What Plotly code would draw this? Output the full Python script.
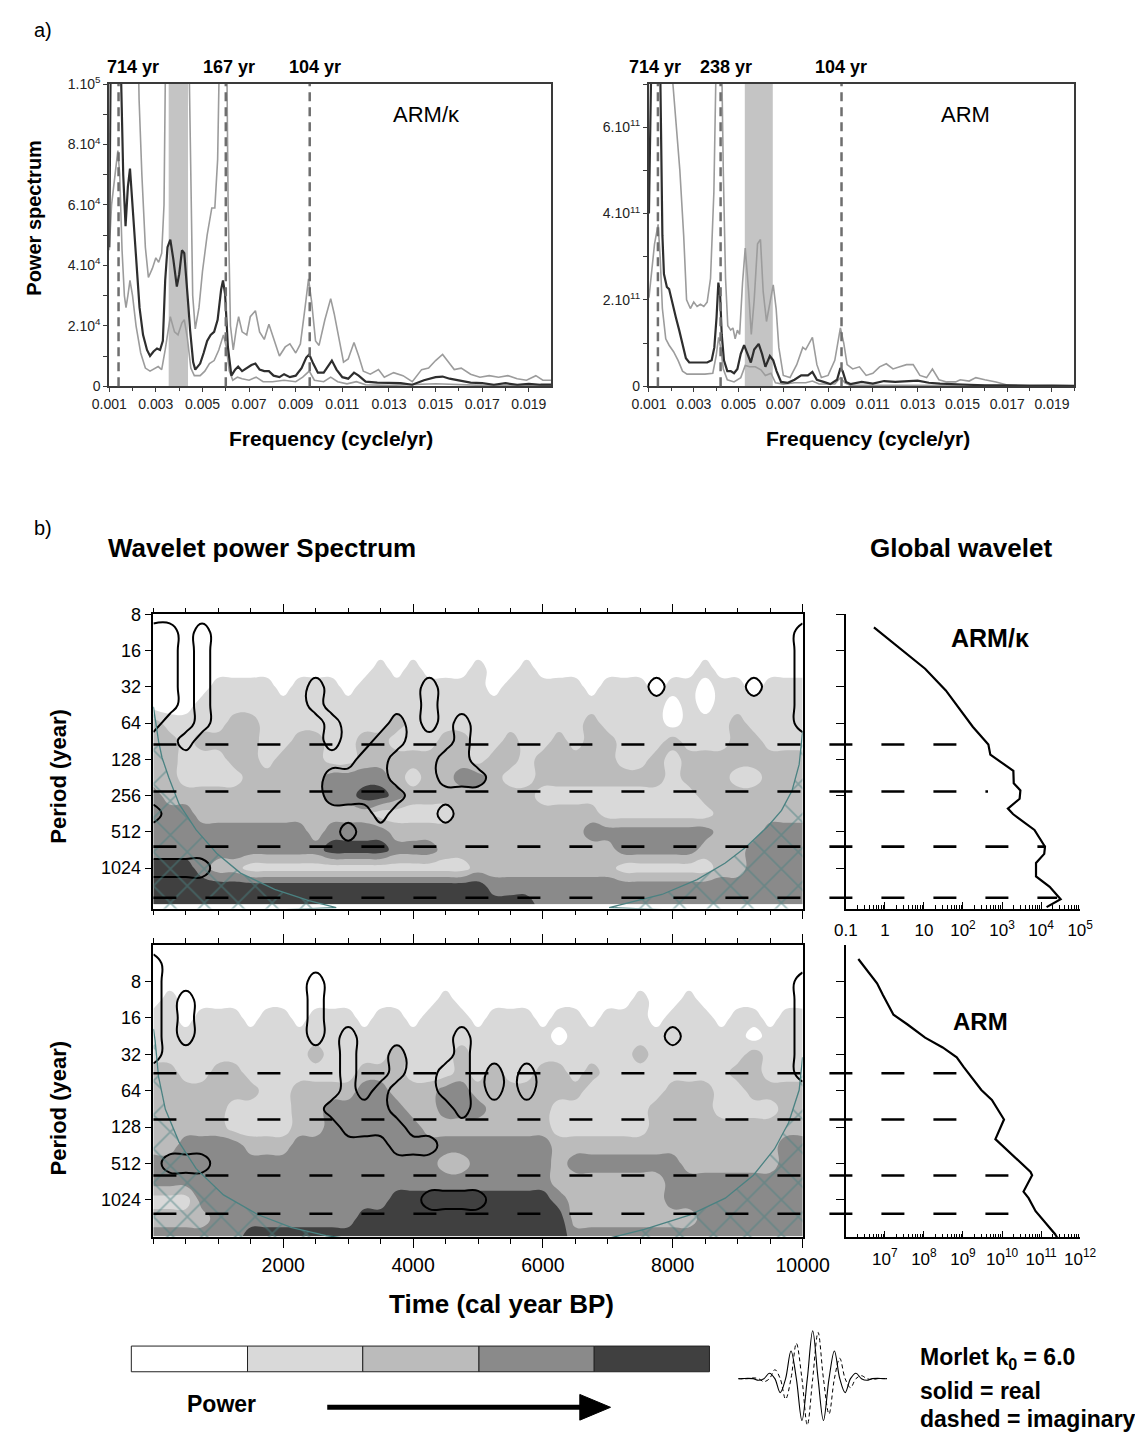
import plotly.graph_objects as go

W, H = 1135, 1439
FONT = "Liberation Sans, Arial, Helvetica, sans-serif"


def px(x):
    return x / W


def py(y):
    return 1 - y / H


# ---------------- a) power spectra (freq, power) ----------------
# ARM/kappa panel, power in units of 1e4
ARMK_SPEC = [(0.00100, 4.6), (0.00106, 10.5), (0.00120, 13.0), (0.00140, 13.0), (0.00150, 10.5), (0.00160, 7.0),
             (0.00170, 5.3), (0.00180, 6.6), (0.00189, 7.2), (0.00200, 6.0), (0.00215, 4.2), (0.00230, 2.6),
             (0.00245, 1.7), (0.00262, 1.2), (0.00275, 1.0), (0.00290, 1.15), (0.00305, 1.25), (0.00318, 1.2),
             (0.00330, 1.5), (0.00340, 3.5), (0.00350, 4.6), (0.00362, 4.85), (0.00375, 4.2), (0.00390, 3.3),
             (0.00400, 3.7), (0.00412, 4.5), (0.00422, 4.4), (0.00432, 3.5), (0.00440, 2.6), (0.00447, 1.85),
             (0.00460, 0.8), (0.00469, 0.55), (0.00490, 0.75), (0.00505, 1.1), (0.00520, 1.5), (0.00535, 1.7),
             (0.00550, 1.8), (0.00565, 2.2), (0.00580, 3.2), (0.00588, 3.5), (0.00597, 3.05), (0.00609, 1.3),
             (0.00624, 0.35), (0.00640, 0.55), (0.00653, 0.65), (0.00670, 0.5), (0.00690, 0.6), (0.00710, 0.7),
             (0.00727, 0.75), (0.00745, 0.55), (0.00765, 0.5), (0.00785, 0.5), (0.00805, 0.35), (0.00830, 0.3),
             (0.00850, 0.4), (0.00875, 0.3), (0.00900, 0.35), (0.00925, 0.6), (0.00945, 0.95), (0.00958, 1.05),
             (0.00975, 0.75), (0.00995, 0.45), (0.01020, 0.45), (0.01040, 0.7), (0.01055, 0.85), (0.01075, 0.55),
             (0.01100, 0.3), (0.01125, 0.25), (0.01150, 0.45), (0.01170, 0.35), (0.01200, 0.15), (0.01250, 0.12),
             (0.01300, 0.12), (0.01350, 0.1), (0.01400, 0.05), (0.01450, 0.2), (0.01500, 0.3), (0.01530, 0.32),
             (0.01560, 0.25), (0.01600, 0.2), (0.01650, 0.12), (0.01700, 0.1), (0.01750, 0.05), (0.01800, 0.1),
             (0.01850, 0.05), (0.01900, 0.08), (0.01950, 0.05), (0.02000, 0.05)]
ARMK_UP = [(0.00100, 13), (0.00220, 13), (0.00228, 9.5), (0.00240, 7.0), (0.00255, 4.6), (0.00268, 3.6),
           (0.00285, 3.9), (0.00300, 4.25), (0.00312, 4.1), (0.00325, 4.4), (0.00335, 6.0), (0.00343, 12),
           (0.00440, 12), (0.00447, 8.0), (0.00458, 3.0), (0.00469, 1.9), (0.00485, 2.6), (0.00500, 3.8),
           (0.00520, 5.0), (0.00540, 5.9), (0.00553, 5.9), (0.00565, 7.5), (0.00575, 12), (0.00603, 12),
           (0.00610, 6.0), (0.00620, 2.0), (0.00632, 1.2), (0.00645, 1.9), (0.00655, 2.3), (0.00670, 1.8),
           (0.00690, 1.7), (0.00705, 2.3), (0.00727, 2.5), (0.00745, 1.8), (0.00765, 1.55), (0.00785, 2.05),
           (0.00805, 1.6), (0.00830, 1.0), (0.00855, 1.3), (0.00875, 1.4), (0.00900, 1.1), (0.00920, 1.4),
           (0.00940, 2.6), (0.00955, 3.55), (0.00968, 2.8), (0.00985, 1.5), (0.01000, 1.35), (0.01025, 2.2),
           (0.01050, 2.9), (0.01065, 2.4), (0.01085, 1.6), (0.01105, 0.8), (0.01125, 0.9), (0.01150, 1.45),
           (0.01170, 1.0), (0.01190, 0.5), (0.01220, 0.4), (0.01255, 0.55), (0.01280, 0.3), (0.01320, 0.45),
           (0.01360, 0.35), (0.01400, 0.15), (0.01440, 0.55), (0.01470, 0.6), (0.01500, 0.85), (0.01530, 1.05),
           (0.01555, 0.8), (0.01580, 0.55), (0.01610, 0.6), (0.01650, 0.4), (0.01690, 0.3), (0.01730, 0.35),
           (0.01770, 0.3), (0.01810, 0.35), (0.01850, 0.25), (0.01890, 0.2), (0.01930, 0.35), (0.01960, 0.2),
           (0.02000, 0.2)]
ARMK_LO = [(0.00100, 4.5), (0.00110, 6.0), (0.00125, 7.0), (0.00137, 7.8), (0.00145, 7.0), (0.00155, 4.5),
           (0.00165, 3.0), (0.00172, 2.6), (0.00180, 3.0), (0.00189, 3.5), (0.00200, 3.0), (0.00215, 2.0),
           (0.00235, 1.1), (0.00255, 0.6), (0.00275, 0.5), (0.00295, 0.6), (0.00310, 0.65), (0.00325, 0.55),
           (0.00340, 1.2), (0.00362, 2.3), (0.00380, 1.8), (0.00395, 1.7), (0.00412, 2.1), (0.00422, 2.2),
           (0.00435, 1.6), (0.00450, 0.6), (0.00465, 0.35), (0.00490, 0.35), (0.00510, 0.5), (0.00530, 0.75),
           (0.00550, 0.85), (0.00570, 1.2), (0.00590, 1.7), (0.00602, 1.3), (0.00615, 0.5), (0.00630, 0.2),
           (0.00650, 0.3), (0.00670, 0.25), (0.00700, 0.2), (0.00730, 0.3), (0.00760, 0.15), (0.00800, 0.15),
           (0.00850, 0.2), (0.00900, 0.15), (0.00930, 0.3), (0.00958, 0.5), (0.00980, 0.2), (0.01020, 0.15),
           (0.01050, 0.3), (0.01080, 0.15), (0.01120, 0.08), (0.01160, 0.15), (0.01200, 0.05), (0.01300, 0.03),
           (0.01500, 0.08), (0.01700, 0.03), (0.02000, 0.02)]

# ARM panel, power in units of 1e11
ARM_SPEC = [(0.00100, 4.0), (0.00103, 7.5), (0.00115, 9.0), (0.00140, 9.0), (0.00150, 7.5), (0.00155, 5.5),
            (0.00160, 3.5), (0.00167, 2.6), (0.00180, 2.3), (0.00190, 2.25), (0.00205, 1.9), (0.00220, 1.6),
            (0.00235, 1.3), (0.00250, 0.95), (0.00265, 0.65), (0.00280, 0.55), (0.00300, 0.55), (0.00330, 0.55),
            (0.00360, 0.55), (0.00380, 0.6), (0.00392, 0.9), (0.00402, 1.6), (0.00410, 2.4), (0.00418, 2.1),
            (0.00425, 1.2), (0.00435, 0.6), (0.00450, 0.35), (0.00465, 0.35), (0.00480, 0.3), (0.00495, 0.4),
            (0.00510, 0.75), (0.00525, 0.95), (0.00540, 0.75), (0.00555, 0.55), (0.00570, 0.85), (0.00590, 0.98),
            (0.00605, 0.75), (0.00620, 0.45), (0.00640, 0.7), (0.00655, 0.6), (0.00670, 0.35), (0.00690, 0.1),
            (0.00720, 0.08), (0.00750, 0.15), (0.00780, 0.25), (0.00810, 0.25), (0.00830, 0.33), (0.00850, 0.15),
            (0.00880, 0.1), (0.00910, 0.05), (0.00940, 0.15), (0.00955, 0.42), (0.00965, 0.35), (0.00980, 0.1),
            (0.01000, 0.05), (0.01050, 0.1), (0.01100, 0.06), (0.01150, 0.12), (0.01200, 0.1), (0.01250, 0.12),
            (0.01300, 0.13), (0.01350, 0.08), (0.01400, 0.06), (0.01500, 0.04), (0.01600, 0.02), (0.01700, 0.02),
            (0.01800, 0.01), (0.02000, 0.01)]
ARM_UP = [(0.00100, 8.0), (0.00200, 8.0), (0.00207, 7.0), (0.00220, 6.2), (0.00238, 5.0), (0.00255, 3.5),
          (0.00268, 2.0), (0.00285, 1.8), (0.00300, 1.95), (0.00315, 1.85), (0.00330, 1.9), (0.00345, 1.85),
          (0.00360, 1.95), (0.00375, 2.5), (0.00390, 4.5), (0.00400, 7.5), (0.00425, 7.5), (0.00432, 5.0),
          (0.00442, 2.5), (0.00452, 1.4), (0.00465, 1.3), (0.00475, 1.35), (0.00485, 1.1), (0.00495, 1.3),
          (0.00505, 1.2), (0.00518, 2.4), (0.00530, 3.2), (0.00545, 2.2), (0.00557, 1.2), (0.00570, 2.0),
          (0.00585, 3.3), (0.00598, 3.4), (0.00610, 2.2), (0.00625, 1.5), (0.00640, 1.9), (0.00655, 2.35),
          (0.00668, 1.8), (0.00680, 0.9), (0.00700, 0.25), (0.00730, 0.2), (0.00760, 0.5), (0.00787, 0.9),
          (0.00800, 0.85), (0.00830, 1.13), (0.00850, 0.5), (0.00870, 0.2), (0.00900, 0.25), (0.00930, 0.6),
          (0.00955, 1.35), (0.00970, 1.0), (0.00985, 0.5), (0.01010, 0.4), (0.01040, 0.45), (0.01070, 0.25),
          (0.01100, 0.3), (0.01130, 0.45), (0.01160, 0.52), (0.01190, 0.4), (0.01220, 0.45), (0.01250, 0.5),
          (0.01280, 0.5), (0.01310, 0.25), (0.01340, 0.2), (0.01366, 0.4), (0.01395, 0.15), (0.01430, 0.1),
          (0.01470, 0.1), (0.01490, 0.15), (0.01530, 0.12), (0.01560, 0.2), (0.01600, 0.15), (0.01650, 0.1),
          (0.01700, 0.03), (0.01800, 0.02), (0.01900, 0.03), (0.02000, 0.01)]
ARM_LO = [(0.00100, 2.05), (0.00110, 2.5), (0.00125, 3.3), (0.00141, 3.75), (0.00150, 3.0), (0.00160, 1.8),
          (0.00175, 1.1), (0.00190, 0.95), (0.00210, 0.8), (0.00230, 0.6), (0.00250, 0.35), (0.00270, 0.28),
          (0.00300, 0.28), (0.00350, 0.28), (0.00385, 0.3), (0.00400, 0.7), (0.00411, 1.13), (0.00420, 0.9),
          (0.00432, 0.4), (0.00450, 0.15), (0.00480, 0.1), (0.00510, 0.2), (0.00530, 0.48), (0.00550, 0.45),
          (0.00575, 0.45), (0.00600, 0.38), (0.00620, 0.25), (0.00645, 0.3), (0.00665, 0.08), (0.00700, 0.05),
          (0.00750, 0.08), (0.00800, 0.08), (0.00830, 0.12), (0.00860, 0.05), (0.00930, 0.05), (0.00955, 0.2),
          (0.00975, 0.08), (0.01000, 0.02), (0.01200, 0.02), (0.02000, 0.01)]

ARMK_PEAKS = [0.0014, 0.0060, 0.0096]          # 714, 167, 104 yr
ARMK_PEAK_LABELS = ["714 yr", "167 yr", "104 yr"]
ARMK_BAND = [0.00355, 0.00438]
ARM_PEAKS = [0.0014, 0.0042, 0.0096]           # 714, 238, 104 yr
ARM_PEAK_LABELS = ["714 yr", "238 yr", "104 yr"]
ARM_BAND = [0.00528, 0.00653]

FREQ_TICKS = [0.001, 0.003, 0.005, 0.007, 0.009, 0.011, 0.013, 0.015, 0.017, 0.019]
FREQ_TICK_LABELS = ["0.001", "0.003", "0.005", "0.007", "0.009", "0.011", "0.013", "0.015", "0.017", "0.019"]
ARMK_YTICKS = [0, 2, 4, 6, 8, 10]
ARMK_YTICK_LABELS = ["0", "2.10<sup>4</sup>", "4.10<sup>4</sup>", "6.10<sup>4</sup>", "8.10<sup>4</sup>",
                     "1.10<sup>5</sup>"]
ARM_YTICKS = [0, 2, 4, 6]
ARM_YTICK_LABELS = ["0", "2.10<sup>11</sup>", "4.10<sup>11</sup>", "6.10<sup>11</sup>"]

# ---------------- b) wavelet power (gray level 0..4) ----------------
TIME_COLS = list(range(0, 10001, 250))
LOG2_ROWS_TOP = [3.0, 3.5, 4.0, 4.5, 5.0, 5.5, 6.0, 6.5, 7.0, 7.5, 8.0, 8.5, 9.0, 9.5, 10.0, 10.5, 11.0]
ARMK_LEVELS = [
    "0000000000 0000000000 0000000000 0000000000 0",
    "0000000000 0000000000 0000000000 0000000000 0",
    "0000000000 0000000000 0000000000 0000000000 0",
    "0000000000 0000101000 1001000000 0000100000 0",
    "0000111101 1101111111 1011111011 1011011011 1",
    "0001111111 1111111111 1111111111 1101011111 1",
    "2111122111 1111121111 1111111211 1101112111 1",
    "2212222112 2112211122 1121121221 1121112211 1",
    "2211122122 2112222222 1221222221 1212222222 2",
    "2211112222 2333321223 3211222222 2212221122 2",
    "3222222222 2334432222 2222111111 1111222222 2",
    "3332222222 2222111112 2222222211 1111122222 2",
    "3333333333 2333322222 2222222333 3333322233 3",
    "3333333333 3444433322 2222222223 3333222333 3",
    "4443221111 1111111111 2222222221 1111122333 3",
    "4444444444 4444444444 4333333333 3333333333 3",
    "4444444444 4444444444 4444333333 3333333333 3",
]
ARMK_SIG = {3.5: [0, 1, 3, 40], 4.0: [0, 1, 3, 40], 4.5: [0, 1, 3, 40],
            5.0: [0, 1, 3, 10, 17, 31, 37, 40], 5.5: [0, 1, 3, 10, 17, 40],
            6.0: [0, 3, 11, 15, 17, 19, 40], 6.5: [2, 11, 14, 15, 19], 7.0: [13, 14, 18, 19],
            7.5: [11, 12, 13, 14, 18, 19, 20], 8.0: [11, 12, 13, 14, 15], 8.5: [0, 14, 18],
            9.0: [12], 10.0: [0, 1, 2, 3]}

LOG2_ROWS_BOT = [2.0, 2.5, 3.0, 3.5, 4.0, 4.5, 5.0, 5.5, 6.0, 6.5, 7.0, 7.5, 8.0, 8.5, 9.0, 9.5, 10.0]
ARM_LEVELS = [
    "0000000000 0000000000 0000000000 0000000000 0",
    "0000000000 0000000000 0000000000 0000000000 0",
    "0000000000 0000000000 0000000000 0000000000 0",
    "0100000000 0000000010 0000000000 1001000000 0",
    "1101110110 1110110111 0111011011 1011101101 1",
    "1111111111 1111111111 1111101111 1111111011 1",
    "1111111111 2111121112 1111111111 2111111211 1",
    "2211221111 1112221112 1211221211 1111112211 1",
    "2222222112 2223322233 2222222111 1122211222 2",
    "2222211112 2333332233 3222211111 1222211112 2",
    "2222211112 2333333222 2222211111 1222222222 2",
    "2233332223 3333333333 3333322222 2222222223 3",
    "3333333333 3333333322 3333323333 3332222223 3",
    "3333333333 3333333333 3333322222 2233333333 3",
    "1113333333 3333344444 4444432222 2233333333 3",
    "2222333333 3334444444 4444442222 2222333333 3",
    "3333334444 4444444444 4444443333 3333333333 3",
]
ARM_SIG = {2.5: [0], 3.0: [0, 10, 40], 3.5: [0, 2, 10, 40], 4.0: [0, 2, 10, 40],
           4.5: [0, 2, 10, 12, 19, 32, 40], 5.0: [0, 12, 15, 19, 40],
           5.5: [12, 15, 18, 19, 21, 23, 40], 6.0: [12, 14, 18, 19, 21, 23],
           6.5: [11, 12, 13, 14, 19], 7.0: [12, 13, 14, 15], 7.5: [15, 16, 17],
           8.0: [1, 2, 3], 9.0: [17, 18, 19, 20]}

# cone of influence (time, log2 period)
COI_TOP_L = [(0, 5.55), (79, 6.5), (132, 6.95), (237, 7.5), (395, 8.23), (658, 8.95), (974, 9.59),
             (1342, 10.14), (1868, 10.59), (2395, 10.9), (2816, 11.09)]
COI_TOP_R = [(10000, 6.23), (9947, 7.14), (9838, 7.86), (9676, 8.41), (9459, 8.86), (9134, 9.41),
             (8809, 9.86), (8375, 10.32), (7833, 10.73), (7020, 11.09)]
COI_BOT_L = [(0, 4.3), (26, 4.62), (79, 5.61), (184, 6.51), (395, 7.41), (658, 8.14), (1079, 8.86),
             (1605, 9.40), (2132, 9.76), (2658, 9.98), (2950, 10.05)]
COI_BOT_R = [(10000, 5.08), (9947, 5.98), (9784, 6.88), (9567, 7.6), (9242, 8.32), (8809, 8.95),
             (8267, 9.41), (7562, 9.81), (7020, 10.05)]

# global wavelet spectra (log2 period, log10 power)
ARMK_GLOBAL = [(3.36, -0.28), (3.88, 0.33), (4.50, 1.03), (5.10, 1.56), (5.77, 2.02), (6.10, 2.25),
               (6.59, 2.65), (6.87, 2.70), (7.32, 3.29), (7.66, 3.30), (7.86, 3.47), (8.09, 3.45),
               (8.36, 3.15), (8.51, 3.28), (8.95, 3.83), (9.41, 4.10), (9.61, 4.08), (9.86, 3.87),
               (10.23, 3.87), (10.52, 4.22), (10.86, 4.50), (10.97, 4.30), (11.08, 4.14)]
ARM_GLOBAL = [(2.38, 6.32), (2.75, 6.58), (3.05, 6.80), (3.37, 6.95), (3.91, 7.22), (4.18, 7.58),
              (4.54, 8.03), (4.81, 8.48), (5.08, 8.84), (5.35, 9.02), (5.71, 9.29), (5.98, 9.47),
              (6.25, 9.74), (6.55, 9.90), (6.79, 10.05), (7.33, 9.83), (7.60, 10.10), (8.23, 10.73),
              (8.32, 10.77), (8.77, 10.55), (8.95, 10.68), (9.31, 10.86), (9.94, 11.36), (10.05, 11.42)]

# dashed reference periods (log2 period) and where they stop on the global axis (log10 power)
ARMK_DASH = [(6.59, 2.27), (7.89, 2.64), (9.41, 4.11), (10.82, 4.41)]
ARM_DASH = [(5.52, 9.02), (6.79, 9.47), (8.33, 10.82), (9.38, 10.82)]

PERIOD_TICKS_TOP = [3, 4, 5, 6, 7, 8, 9, 10]
PERIOD_LABELS_TOP = ["8", "16", "32", "64", "128", "256", "512", "1024"]
PERIOD_TICKS_BOT = [3, 4, 5, 6, 7, 8, 9]
PERIOD_LABELS_BOT = ["8", "16", "32", "64", "128", "512", "1024"]
TIME_TICKS = [2000, 4000, 6000, 8000, 10000]
TIME_LABELS = ["2000", "4000", "6000", "8000", "10000"]
GLOB_TOP_TICKS = [0.1, 1, 10, 100, 1e3, 1e4, 1e5]
GLOB_TOP_LABELS = ["0.1", "1", "10", "10<sup>2</sup>", "10<sup>3</sup>", "10<sup>4</sup>", "10<sup>5</sup>"]
GLOB_BOT_TICKS = [1e7, 1e8, 1e9, 1e10, 1e11, 1e12]
GLOB_BOT_LABELS = ["10<sup>7</sup>", "10<sup>8</sup>", "10<sup>9</sup>", "10<sup>10</sup>",
                   "10<sup>11</sup>", "10<sup>12</sup>"]

# legend: power classes and Morlet wavelet sketch
POWER_CLASSES = ["#ffffff", "#d9d9d9", "#bbbbbb", "#8a8a8a", "#404040"]
MORLET_T = [-3.6, -3.40, -3.14, -2.88, -2.62, -2.36, -2.09, -1.83, -1.57, -1.31, -1.05, -0.79, -0.52, -0.26, 0.0,
            0.26, 0.52, 0.79, 1.05, 1.31, 1.57, 1.83, 2.09, 2.36, 2.62, 2.88, 3.14, 3.40, 3.6]
MORLET_RE = [0, 0, 0.007, 0, -0.033, 0, 0.112, 0, -0.291, 0, 0.578, 0, -0.872, 0, 1.0,
             0, -0.872, 0, 0.578, 0, -0.291, 0, 0.112, 0, -0.033, 0, 0.007, 0, 0]
MORLET_IM = [0, -0.003, 0, 0.016, 0, -0.062, 0, 0.187, 0, -0.425, 0, 0.735, 0, -0.966, 0,
             0.966, 0, -0.735, 0, 0.425, 0, -0.187, 0, 0.062, 0, -0.016, 0, 0.003, 0]

# ---------------- build figure ----------------
fig = go.Figure()

LIGHT = "#9c9c9c"
DARK = "#2e2e2e"


def add_spec(data, xa, ya, color, width):
    f, p = zip(*data)
    fig.add_trace(go.Scatter(x=f, y=p, mode="lines", line=dict(color=color, width=width),
                             xaxis=xa, yaxis=ya, hoverinfo="skip"))


add_spec(ARMK_UP, "x", "y", LIGHT, 1.6)
add_spec(ARMK_LO, "x", "y", LIGHT, 1.6)
add_spec(ARMK_SPEC, "x", "y", DARK, 2.2)
add_spec(ARM_UP, "x2", "y2", LIGHT, 1.6)
add_spec(ARM_LO, "x2", "y2", LIGHT, 1.6)
add_spec(ARM_SPEC, "x2", "y2", DARK, 2.2)

GRAY_SCALE = [[0.0, POWER_CLASSES[0]], [0.125, POWER_CLASSES[0]],
              [0.125, POWER_CLASSES[1]], [0.375, POWER_CLASSES[1]],
              [0.375, POWER_CLASSES[2]], [0.625, POWER_CLASSES[2]],
              [0.625, POWER_CLASSES[3]], [0.875, POWER_CLASSES[3]],
              [0.875, POWER_CLASSES[4]], [1.0, POWER_CLASSES[4]]]


def levels(rows):
    return [[int(ch) for ch in r.replace(" ", "")] for r in rows]


def sig_grid(rows, d):
    g = [[0] * len(TIME_COLS) for _ in rows]
    for r, cols in d.items():
        i = rows.index(r)
        for c in cols:
            g[i][c] = 1
    return g


HATCH = "#4a8282"


def add_wavelet(rows, lev, sig, coi_l, coi_r, xa, ya, bottom):
    fig.add_trace(go.Contour(x=TIME_COLS, y=rows, z=levels(lev), xaxis=xa, yaxis=ya,
                             zmin=0, zmax=4, zauto=False, colorscale=GRAY_SCALE, showscale=False,
                             contours=dict(start=0.5, end=3.5, size=1, coloring="fill", showlines=False),
                             line=dict(width=0, smoothing=1.3), hoverinfo="skip"))
    fig.add_trace(go.Contour(x=TIME_COLS, y=rows, z=sig_grid(rows, sig), xaxis=xa, yaxis=ya,
                             showscale=False,
                             contours=dict(start=0.5, end=0.5, size=1, coloring="none"),
                             line=dict(color="black", width=2, smoothing=1.3), hoverinfo="skip"))
    for coi, edge in ((coi_l, 0), (coi_r, 10000)):
        t, p = zip(*coi)
        xs = list(t) + [edge]
        ys = list(p) + [bottom]
        fig.add_trace(go.Scatter(x=xs, y=ys, mode="lines", fill="toself",
                                 fillcolor="rgba(0,0,0,0)",
                                 fillpattern=dict(shape="x", size=24, solidity=0.14,
                                                  fgcolor=HATCH, bgcolor="rgba(0,0,0,0)"),
                                 line=dict(color=HATCH, width=1.3),
                                 xaxis=xa, yaxis=ya, hoverinfo="skip"))


add_wavelet(LOG2_ROWS_TOP, ARMK_LEVELS, ARMK_SIG, COI_TOP_L, COI_TOP_R, "x3", "y3", 11.3)
add_wavelet(LOG2_ROWS_BOT, ARM_LEVELS, ARM_SIG, COI_BOT_L, COI_BOT_R, "x5", "y5", 10.3)

for data, xa, ya in ((ARMK_GLOBAL, "x4", "y4"), (ARM_GLOBAL, "x6", "y6")):
    p, v = zip(*data)
    fig.add_trace(go.Scatter(x=[10 ** a for a in v], y=p, mode="lines",
                             line=dict(color="black", width=2.2), xaxis=xa, yaxis=ya, hoverinfo="skip"))

fig.add_trace(go.Scatter(x=MORLET_T, y=MORLET_IM, mode="lines",
                         line=dict(color="black", width=1, dash="4px,3px", shape="spline"),
                         xaxis="x7", yaxis="y7", hoverinfo="skip"))
fig.add_trace(go.Scatter(x=MORLET_T, y=MORLET_RE, mode="lines",
                         line=dict(color="black", width=1.1, shape="spline"),
                         xaxis="x7", yaxis="y7", hoverinfo="skip"))

# ---------------- axes ----------------
SPEC_L_DOM = [px(95), px(555)]
SPEC_R_DOM = [px(657), px(1100)]
SPEC_Y_DOM = [py(381), py(75)]
WAV_X_DOM = [px(141), px(817)]
TOP_Y_DOM = [py(910), py(612)]
BOT_Y_DOM = [py(1243), py(947)]
GLOB_X_DOM = [px(862), px(1106)]


def spec_x(dom, rng, anchor):
    return dict(domain=dom, range=rng, anchor=anchor, showline=True, mirror=True, linecolor="#3a3a3a",
                linewidth=2, ticks="outside", ticklen=4, tickcolor="#3a3a3a", tickvals=FREQ_TICKS,
                ticktext=FREQ_TICK_LABELS, tickfont=dict(size=14, color="#222"), showgrid=False,
                zeroline=False,
                minor=dict(ticks="outside", ticklen=3, tickcolor="#3a3a3a", tickmode="linear",
                           tick0=0.001, dtick=0.001))


def spec_y(rng, tv, labels, anchor):
    return dict(domain=SPEC_Y_DOM, range=rng, anchor=anchor, showline=True, mirror=True, linecolor="#3a3a3a",
                linewidth=2, ticks="outside", ticklen=4, tickcolor="#3a3a3a",
                tickvals=tv, ticktext=labels,
                tickfont=dict(size=14, color="#222"), showgrid=False, zeroline=False,
                minor=dict(ticks="outside", ticklen=4, tickcolor="#3a3a3a", tickmode="linear",
                           tick0=0, dtick=1))


def wav_x(anchor, labels):
    return dict(domain=WAV_X_DOM, range=[0, 10000], anchor=anchor, showline=True, mirror="ticks",
                linecolor="black", linewidth=1.5, ticks="outside", ticklen=9, tickwidth=1.3,
                tickcolor="black", tickvals=TIME_TICKS, ticktext=TIME_LABELS, showticklabels=labels,
                tickfont=dict(size=19.5), showgrid=False, zeroline=False,
                minor=dict(ticks="outside", ticklen=5, tickwidth=1.1, tickcolor="black", tickmode="linear",
                           tick0=0, dtick=500))


def wav_y(dom, rng, tv, tt, anchor):
    return dict(domain=dom, range=rng, anchor=anchor, showline=True, mirror=True, linecolor="black",
                linewidth=1.5, ticks="outside", ticklen=7, tickwidth=1.3, tickcolor="black",
                tickvals=tv, ticktext=tt, tickfont=dict(size=18), showgrid=False, zeroline=False)


def glob_x(rng, tv, tt, anchor):
    return dict(domain=GLOB_X_DOM, type="log", range=rng, anchor=anchor, showline=True, mirror=False,
                linecolor="black", linewidth=1.5, ticks="inside", ticklen=7, tickwidth=1.2, tickcolor="black",
                tickvals=tv, ticktext=tt, tickfont=dict(size=17), showgrid=False, zeroline=False,
                ticklabelstandoff=5,
                minor=dict(ticks="inside", ticklen=4, tickwidth=1, tickcolor="black", tickmode="linear",
                           dtick="D1"))


def glob_y(dom, rng, tv, anchor):
    return dict(domain=dom, range=rng, anchor=anchor, showline=True, mirror=False, linecolor="black",
                linewidth=1.5, ticks="outside", ticklen=8, tickwidth=1.3, tickcolor="black",
                tickvals=tv, showticklabels=False, showgrid=False, zeroline=False)


TOP_RANGE = [11.12, 3.0]
BOT_RANGE = [10.03, 2.0]

layout = dict(
    width=W, height=H, margin=dict(l=0, r=0, t=0, b=0), autosize=False,
    paper_bgcolor="white", plot_bgcolor="white", showlegend=False,
    font=dict(family=FONT, color="black"),
    xaxis=spec_x(SPEC_L_DOM, [0.001, 0.01995], "y"),
    yaxis=spec_y([0, 10], ARMK_YTICKS, ARMK_YTICK_LABELS, "x"),
    xaxis2=spec_x(SPEC_R_DOM, [0.001, 0.0200], "y2"),
    yaxis2=spec_y([0, 7.0], ARM_YTICKS, ARM_YTICK_LABELS, "x2"),
    xaxis3=wav_x("y3", False),
    yaxis3=wav_y(TOP_Y_DOM, TOP_RANGE, PERIOD_TICKS_TOP, PERIOD_LABELS_TOP, "x3"),
    xaxis4=glob_x([-1, 5], GLOB_TOP_TICKS, GLOB_TOP_LABELS, "y4"),
    yaxis4=glob_y(TOP_Y_DOM, TOP_RANGE, PERIOD_TICKS_TOP, "x4"),
    xaxis5=wav_x("y5", True),
    yaxis5=wav_y(BOT_Y_DOM, BOT_RANGE, PERIOD_TICKS_BOT, PERIOD_LABELS_BOT, "x5"),
    xaxis6=glob_x([6, 12], GLOB_BOT_TICKS, GLOB_BOT_LABELS, "y6"),
    yaxis6=glob_y(BOT_Y_DOM, BOT_RANGE, PERIOD_TICKS_BOT, "x6"),
    xaxis7=dict(domain=[px(750), px(905)], range=[-3.6, 3.6], anchor="y7", visible=False),
    yaxis7=dict(domain=[py(1437), py(1335)], range=[-1.05, 1.05], anchor="x7", visible=False),
)
fig.update_layout(**layout)

# ---------------- shapes ----------------
shapes = []
for band, xr, yr in ((ARMK_BAND, "x", "y domain"), (ARM_BAND, "x2", "y2 domain")):
    shapes.append(dict(type="rect", xref=xr, yref=yr, x0=band[0], x1=band[1], y0=0, y1=1,
                       fillcolor="#c4c4c4", line=dict(width=0), layer="below"))
for peaks, xr, yr in ((ARMK_PEAKS, "x", "y domain"), (ARM_PEAKS, "x2", "y2 domain")):
    for f in peaks:
        shapes.append(dict(type="line", xref=xr, yref=yr, x0=f, x1=f, y0=0, y1=1,
                           line=dict(color="#6e6e6e", width=2.5, dash="9px,6px"), layer="above"))


def glob_paper(logv, lo, hi):
    return GLOB_X_DOM[0] + (logv - lo) / (hi - lo) * (GLOB_X_DOM[1] - GLOB_X_DOM[0])


for dashes, yr, lo, hi in ((ARMK_DASH, "y3", -1, 5), (ARM_DASH, "y5", 6, 12)):
    for p, endv in dashes:
        shapes.append(dict(type="line", xref="paper", yref=yr, x0=WAV_X_DOM[0], x1=glob_paper(endv, lo, hi),
                           y0=p, y1=p, line=dict(color="black", width=2.6, dash="23px,29px"), layer="above"))

# power class bar
bar_edges = [118, 239, 359, 480, 600, 720]
for i, col in enumerate(POWER_CLASSES):
    shapes.append(dict(type="rect", xref="paper", yref="paper", x0=px(bar_edges[i]), x1=px(bar_edges[i + 1]),
                       y0=py(1379), y1=py(1353), fillcolor=col, line=dict(color="#222", width=1)))
# power arrow
shapes.append(dict(type="line", xref="paper", yref="paper", x0=px(322), x1=px(590), y0=py(1415), y1=py(1415),
                   line=dict(color="black", width=5)))
shapes.append(dict(type="path", xref="paper", yref="paper",
                   path=f"M {px(585)},{py(1402)} L {px(617)},{py(1415)} L {px(585)},{py(1428)} Z",
                   fillcolor="black", line=dict(color="black", width=1)))
fig.update_layout(shapes=shapes)

# ---------------- annotations ----------------
ann = []


def txt(x, y, s, size, bold=False, xanchor="center", angle=0, color="black", yanchor="middle"):
    ann.append(dict(x=px(x), y=py(y), xref="paper", yref="paper", text=f"<b>{s}</b>" if bold else s,
                    showarrow=False, font=dict(size=size, color=color, family=FONT),
                    xanchor=xanchor, yanchor=yanchor, textangle=angle))


txt(15, 20, "a)", 20, xanchor="left")
for lab, xx in zip(ARMK_PEAK_LABELS, [120, 220, 309]):
    txt(xx, 58, lab, 18, bold=True)
for lab, xx in zip(ARM_PEAK_LABELS, [663, 737, 857]):
    txt(xx, 58, lab, 18, bold=True)
txt(425, 106, "ARM/κ", 22)
txt(987, 106, "ARM", 22)
txt(17, 210, "Power spectrum", 20, bold=True, angle=-90)
txt(326, 434, "Frequency (cycle/yr)", 21, bold=True)
txt(885, 434, "Frequency (cycle/yr)", 21, bold=True)
txt(15, 525, "b)", 20, xanchor="left")
txt(254, 545, "Wavelet power Spectrum", 26, bold=True)
txt(982, 545, "Global wavelet", 26, bold=True)
txt(42, 776, "Period (year)", 22, bold=True, angle=-90)
txt(42, 1112, "Period (year)", 22, bold=True, angle=-90)
txt(1012, 636, "ARM/κ", 25, bold=True)
txt(1002, 1024, "ARM", 24, bold=True)
txt(503, 1310, "Time (cal year BP)", 26, bold=True)
txt(212, 1412, "Power", 23, bold=True)
txt(937, 1366, "Morlet k<sub>0</sub> = 6.0", 23, bold=True, xanchor="left")
txt(937, 1398, "solid = real", 23, bold=True, xanchor="left")
txt(937, 1427, "dashed = imaginary", 23, bold=True, xanchor="left")
fig.update_layout(annotations=ann)

fig.write_html("out.html", config={"displayModeBar": False},
               post_script="document.body.style.margin='0px';document.body.style.overflow='hidden';")
